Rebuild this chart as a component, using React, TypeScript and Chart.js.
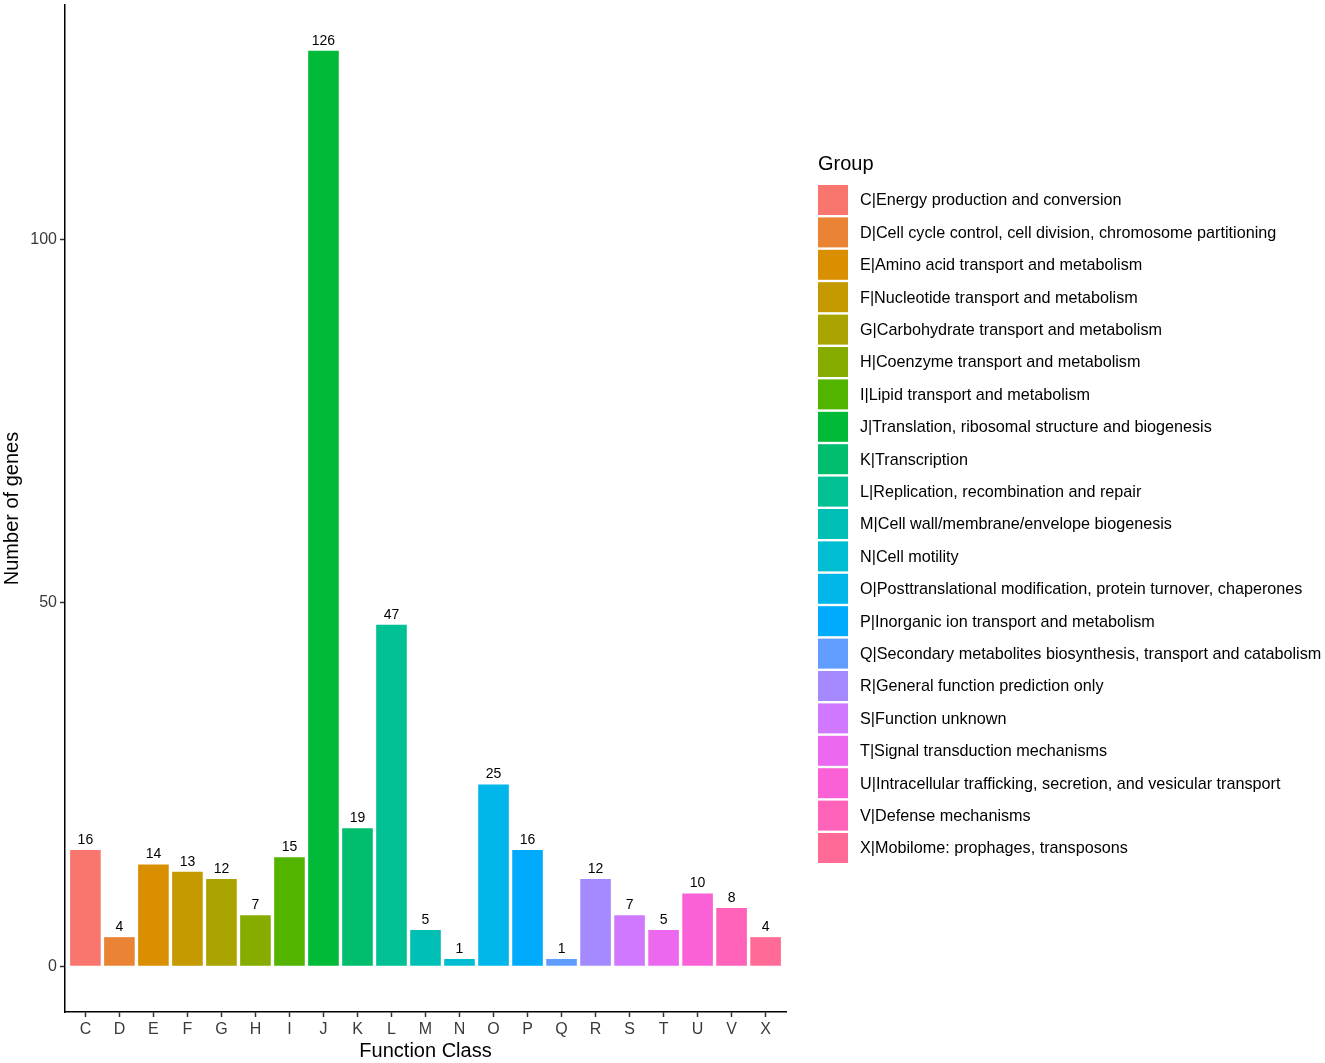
import { useEffect, useRef } from "react"
import { Chart, registerables } from "chart.js"

Chart.register(...registerables)

const categories = ["C", "D", "E", "F", "G", "H", "I", "J", "K", "L", "M", "N", "O", "P", "Q", "R", "S", "T", "U", "V", "X"]

const counts = [16, 4, 14, 13, 12, 7, 15, 126, 19, 47, 5, 1, 25, 16, 1, 12, 7, 5, 10, 8, 4]

const groupNames = [
  "C|Energy production and conversion",
  "D|Cell cycle control, cell division, chromosome partitioning",
  "E|Amino acid transport and metabolism",
  "F|Nucleotide transport and metabolism",
  "G|Carbohydrate transport and metabolism",
  "H|Coenzyme transport and metabolism",
  "I|Lipid transport and metabolism",
  "J|Translation, ribosomal structure and biogenesis",
  "K|Transcription",
  "L|Replication, recombination and repair",
  "M|Cell wall/membrane/envelope biogenesis",
  "N|Cell motility",
  "O|Posttranslational modification, protein turnover, chaperones",
  "P|Inorganic ion transport and metabolism",
  "Q|Secondary metabolites biosynthesis, transport and catabolism",
  "R|General function prediction only",
  "S|Function unknown",
  "T|Signal transduction mechanisms",
  "U|Intracellular trafficking, secretion, and vesicular transport",
  "V|Defense mechanisms",
  "X|Mobilome: prophages, transposons",
]

const yTicks = [0, 50, 100]

const FONT = "'Liberation Sans', Arial, Helvetica, sans-serif"

// ggplot-style hue palette (polar Luv -> sRGB)
function hcl(h: number, c: number, l: number) {
  const hr = (h * Math.PI) / 180
  const U = c * Math.cos(hr)
  const V = c * Math.sin(hr)
  const Xn = 95.047, Yn = 100, Zn = 108.883
  const Y = l > 8 ? Yn * Math.pow((l + 16) / 116, 3) : (Yn * l) / 903.3
  const t = Xn + 15 * Yn + 3 * Zn
  const un = (4 * Xn) / t, vn = (9 * Yn) / t
  const u = U / (13 * l) + un
  const v = V / (13 * l) + vn
  const X = (9 * Y * u) / (4 * v)
  const Z = -X / 3 - 5 * Y + (3 * Y) / v
  const lin = [
    (3.240479 * X - 1.53715 * Y - 0.498535 * Z) / 100,
    (-0.969256 * X + 1.875992 * Y + 0.041556 * Z) / 100,
    (0.055648 * X - 0.204043 * Y + 1.057311 * Z) / 100,
  ]
  const out = lin.map((x) => {
    const g = x <= 0.0031308 ? 12.92 * x : 1.055 * Math.pow(x, 1 / 2.4) - 0.055
    return Math.round(Math.min(1, Math.max(0, g)) * 255)
  })
  return `rgb(${out[0]}, ${out[1]}, ${out[2]})`
}

const colors = categories.map((_, i) => hcl(15 + (i * 360) / categories.length, 100, 65))

const barLabels = {
  id: "barLabels",
  afterDatasetsDraw(chart: Chart) {
    const ctx = chart.ctx
    const meta = chart.getDatasetMeta(0)
    ctx.save()
    ctx.font = `14px ${FONT}`
    ctx.fillStyle = "#000"
    ctx.textAlign = "center"
    ctx.textBaseline = "bottom"
    meta.data.forEach((bar: any, i: number) => {
      ctx.fillText(String(counts[i]), bar.x, bar.y - 3)
    })
    ctx.restore()
  },
}

const groupLegend = {
  id: "groupLegend",
  afterDraw(chart: Chart) {
    const ctx = chart.ctx
    ctx.save()
    ctx.textAlign = "left"
    ctx.textBaseline = "middle"
    ctx.fillStyle = "#000"
    ctx.font = `20px ${FONT}`
    ctx.fillText("Group", 818, 164)
    ctx.font = `16.2px ${FONT}`
    groupNames.forEach((name, i) => {
      const yc = 200 + i * 32.4
      ctx.fillStyle = colors[i]
      ctx.fillRect(818, yc - 15, 30, 30)
      ctx.fillStyle = "#000"
      ctx.fillText(name, 860, yc + 1)
    })
    ctx.restore()
  },
}

const GeneChart = () => {
  const chartRef = useRef<HTMLCanvasElement>(null)
  const chartInstance = useRef<Chart | null>(null)

  useEffect(() => {
    document.body.style.margin = "0"
    if (!chartRef.current) return
    if (chartInstance.current) {
      chartInstance.current.destroy()
    }
    const ctx = chartRef.current.getContext("2d")
    if (!ctx) return

    chartInstance.current = new Chart(ctx, {
      type: "bar",
      data: {
        datasets: [
          {
            label: "Number of genes",
            data: counts.map((v, i) => ({ x: i, y: v })),
            backgroundColor: colors,
            barPercentage: 0.9,
            categoryPercentage: 1,
          },
        ],
      },
      options: {
        animation: false,
        responsive: true,
        maintainAspectRatio: false,
        layout: { padding: { left: 0, top: 5, right: 539, bottom: 0 } },
        plugins: {
          legend: { display: false },
          tooltip: { enabled: false },
        },
        scales: {
          x: {
            type: "linear",
            min: -0.6,
            max: 20.6,
            offset: false,
            afterBuildTicks: (scale: any) => {
              scale.ticks = categories.map((_, i) => ({ value: i }))
            },
            afterFit: (scale: any) => {
              scale.height = 51
              scale.paddingLeft = 0
              scale.paddingRight = 0
            },
            ticks: {
              callback: (value: any) => categories[value as number] ?? "",
              font: { family: FONT, size: 16 },
              color: "#3a3a3a",
              padding: 3,
              maxRotation: 0,
              autoSkip: false,
            },
            grid: {
              display: true,
              offset: false,
              drawOnChartArea: false,
              drawTicks: true,
              tickLength: 5,
              tickColor: "#333",
              tickWidth: 1.5,
            },
            border: { display: true, color: "#000", width: 1.5 },
            title: {
              display: true,
              text: "Function Class",
              font: { family: FONT, size: 20 },
              color: "#000",
              padding: { top: 0, bottom: 0 },
            },
          },
          y: {
            min: -6.3,
            max: 132.3,
            afterBuildTicks: (scale: any) => {
              scale.ticks = yTicks.map((v) => ({ value: v }))
            },
            afterFit: (scale: any) => {
              scale.width = 65
              scale.paddingTop = 0
              scale.paddingBottom = 0
            },
            ticks: {
              font: { family: FONT, size: 16 },
              color: "#3a3a3a",
              padding: 3,
            },
            grid: {
              display: true,
              drawOnChartArea: false,
              drawTicks: true,
              tickLength: 5,
              tickColor: "#333",
              tickWidth: 1.5,
            },
            border: { display: true, color: "#000", width: 1.5 },
            title: {
              display: true,
              text: "Number of genes",
              font: { family: FONT, size: 20 },
              color: "#000",
              padding: { top: 0, bottom: 0 },
            },
          },
        },
      },
      plugins: [barLabels, groupLegend],
    })

    return () => {
      if (chartInstance.current) {
        chartInstance.current.destroy()
        chartInstance.current = null
      }
    }
  }, [])

  return (
    <div style={{ width: "1325px", height: "1063px", position: "relative", background: "#fff" }}>
      <canvas ref={chartRef}></canvas>
    </div>
  )
}

export default function App() {
  return <GeneChart />
}
